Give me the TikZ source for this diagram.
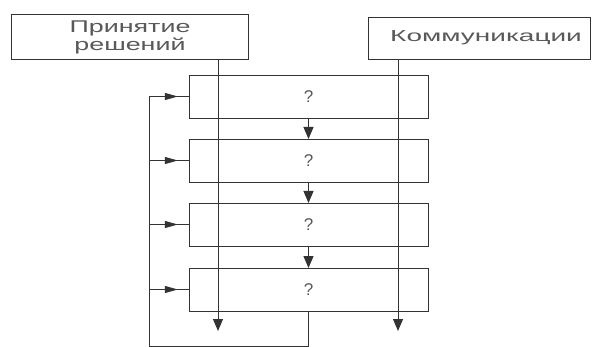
\documentclass[tikz,border=0pt]{standalone}
\usepackage{fontspec}
\setmainfont{Liberation Sans}
\usetikzlibrary{arrows.meta,decorations.markings}
\definecolor{ink}{gray}{0.2}
\definecolor{txt}{gray}{0.35}
\begin{document}
\begin{tikzpicture}[x=1pt,y=-1pt,
  every node/.style={inner sep=0pt,outer sep=0pt},
  topbox/.style={draw=ink,line width=0.9pt,text=txt},
  stagebox/.style={draw=ink,line width=0.9pt,minimum width=239pt,minimum height=43pt,text=txt,font=\fontsize{17}{17}\selectfont},
  link/.style={draw=ink,line width=1pt},
  tip/.style={-{Triangle[length=12pt,width=10pt]}},
  midtip/.style={decoration={markings,mark=at position 0.72 with {\arrow{Triangle[length=13pt,width=7pt]}}},postaction={decorate}}
]
\useasboundingbox (0,0) rectangle (593,347);
\fill[white] (0,0) rectangle (593,347);

\node[topbox,minimum width=237pt,minimum height=45pt,align=center,font=\fontsize{17}{17}\selectfont] (pr) at (130,37)
  {\scalebox{1.58}[1]{Принятие}\\[1pt]\scalebox{1.58}[1]{решений}};
\node[topbox,minimum width=222pt,minimum height=42pt,font=\fontsize{16}{16}\selectfont] (kom) at (479,38)
  {\hspace*{14pt}\scalebox{1.75}[1]{Коммуникации}};

\node[stagebox] (b1) at (308.5,96.5) {?};
\node[stagebox] (b2) at (308.5,160.5) {?};
\node[stagebox] (b3) at (308.5,224.5) {?};
\node[stagebox] (b4) at (308.5,289.5) {?};

\coordinate (lend) at (218,331);
\coordinate (rend) at (398,331);
\draw[link,tip] (lend |- pr.south) -- (lend);
\draw[link,tip] (rend |- kom.south) -- (rend);

\draw[link,tip] (b1.south) -- (b2.north);
\draw[link,tip] (b2.south) -- (b3.north);
\draw[link,tip] (b3.south) -- (b4.north);

\coordinate (fbtop) at (149,96.5);
\coordinate (fbbot) at (149,346);
\draw[link] (b4.south) -- (b4.south |- fbbot) -- (fbbot) -- (fbtop);
\draw[link,midtip] (fbtop) -- (b1.west);
\draw[link,midtip] (fbtop |- b2.west) -- (b2.west);
\draw[link,midtip] (fbtop |- b3.west) -- (b3.west);
\draw[link,midtip] (fbtop |- b4.west) -- (b4.west);
\end{tikzpicture}
\end{document}
